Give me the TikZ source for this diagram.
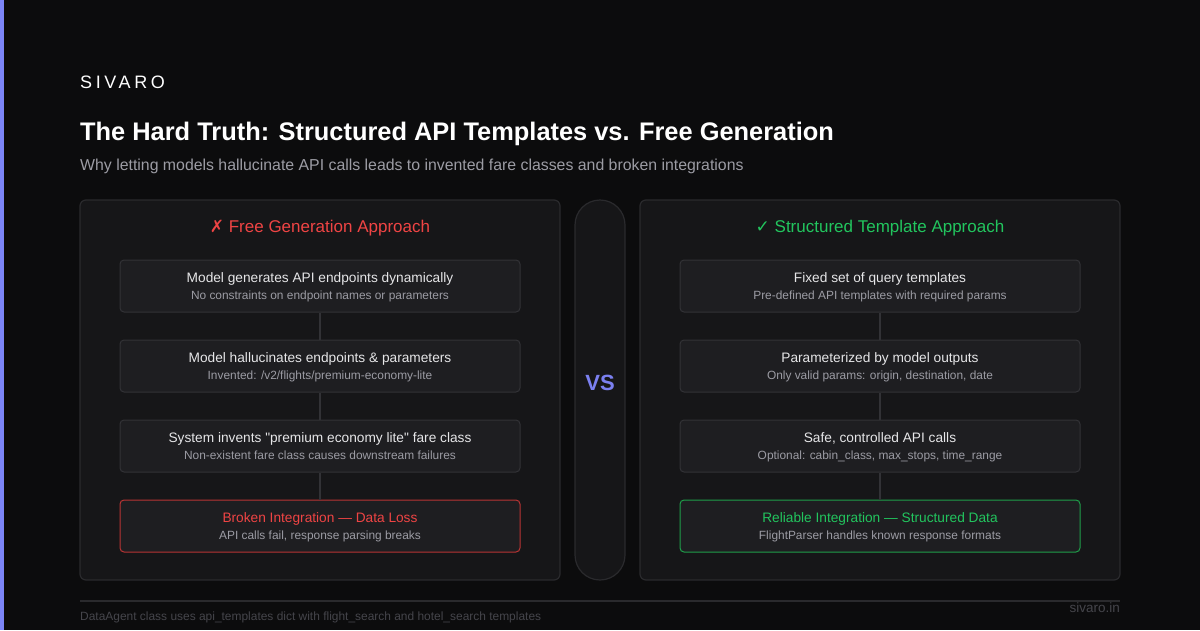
\documentclass[tikz,border=0pt]{standalone}
\usepackage{fontspec}
\setmainfont{Liberation Sans}
\newfontfamily\symfont{DejaVu Sans}
\usetikzlibrary{calc,positioning}
\definecolor{bgdark}{HTML}{0C0C0D}
\definecolor{accent}{HTML}{7C85F7}
\definecolor{panelfill}{HTML}{161618}
\definecolor{panelline}{HTML}{2A2A2D}
\definecolor{boxfill}{HTML}{1E1E21}
\definecolor{boxline}{HTML}{323236}
\definecolor{headtext}{HTML}{E6E6E8}
\definecolor{subtext}{HTML}{9C9CA4}
\definecolor{failred}{HTML}{EF4444}
\definecolor{failline}{HTML}{B83434}
\definecolor{okgreen}{HTML}{22C55E}
\definecolor{okline}{HTML}{1F9E4A}
\definecolor{vsblue}{HTML}{7B80F0}
\definecolor{footgray}{HTML}{45454B}

\tikzset{
  panel/.style={draw=panelline, fill=panelfill, line width=1.2pt, rounded corners=6pt,
    minimum width=480pt, minimum height=380pt, inner sep=0pt},
  pill/.style={draw=panelline, fill=panelfill, line width=1.2pt, rounded corners=25pt,
    minimum width=50pt, minimum height=380pt, inner sep=0pt},
  stepbox/.style={draw=boxline, fill=boxfill, line width=1pt, rounded corners=4pt,
    minimum width=400pt, minimum height=52pt, inner sep=0pt},
  failbox/.style={stepbox, draw=failline},
  okbox/.style={stepbox, draw=okline},
  boxhead/.style={anchor=base, inner sep=0pt, text=headtext, font=\fontsize{13.7}{16}\selectfont},
  boxsub/.style={anchor=base, inner sep=0pt, text=subtext, font=\fontsize{11.9}{13}\selectfont},
  link/.style={draw=boxline, line width=1.2pt},
}

\begin{document}
\begin{tikzpicture}[x=1pt, y=-1pt]
    \fill[bgdark] (0,0) rectangle (1200,630);
    \fill[accent] (0,0) rectangle (4,630);
    \useasboundingbox (0,0) rectangle (1200,630);

    % header
    \node[anchor=base west, inner sep=0pt, text=white, font=\fontsize{18}{20}\selectfont\addfontfeature{LetterSpace=20}] (brand) at (80,88) {SIVARO};
    \node[anchor=base west, inner sep=0pt, text=white, font=\fontsize{25.4}{30}\selectfont\bfseries] (title) at (80,140) {The Hard Truth: Structured API Templates vs. Free Generation};
    \node[anchor=base west, inner sep=0pt, text=subtext, font=\fontsize{15.85}{18}\selectfont] (subtitle) at (80,170) {Why letting models hallucinate API calls leads to invented fare classes and broken integrations};

    % panels
    \node[panel] (lpanel) at (320,390) {};
    \node[pill] (vspill) at (600,390) {};
    \node[panel] (rpanel) at (880,390) {};
    \node[anchor=base, inner sep=0pt, text=vsblue, font=\fontsize{22}{26}\selectfont\bfseries] (vs) at (600,390) {VS};

    \node[anchor=base, inner sep=0pt, text=failred, font=\fontsize{17}{20}\selectfont] (lhead) at (320,232.5) {{\symfont ✗} Free Generation Approach};
    \node[anchor=base, inner sep=0pt, text=okgreen, font=\fontsize{17}{20}\selectfont] (rhead) at (880,232.5) {{\symfont ✓} Structured Template Approach};

    % left column
    \node[stepbox] (lbox1) at (320,286) {};
    \node[stepbox] (lbox2) at (320,366) {};
    \node[stepbox] (lbox3) at (320,446) {};
    \node[failbox] (lbox4) at (320,526) {};
    \draw[link] (lbox1) -- (lbox2);
    \draw[link] (lbox2) -- (lbox3);
    \draw[link] (lbox3) -- (lbox4);
    \node[boxhead] (lbox1head) at ([yshift=-22.5pt]lbox1.north) {Model generates API endpoints dynamically};
    \node[boxsub] (lbox1sub) at ([yshift=-40pt]lbox1.north) {No constraints on endpoint names or parameters};
    \node[boxhead] (lbox2head) at ([yshift=-22.5pt]lbox2.north) {Model hallucinates endpoints \& parameters};
    \node[boxsub] (lbox2sub) at ([yshift=-40pt]lbox2.north) {Invented: /v2/flights/premium-economy-lite};
    \node[boxhead] (lbox3head) at ([yshift=-22.5pt]lbox3.north) {System invents \textquotedbl premium economy lite\textquotedbl{} fare class};
    \node[boxsub] (lbox3sub) at ([yshift=-40pt]lbox3.north) {Non-existent fare class causes downstream failures};
    \node[boxhead, text=failred] (lbox4head) at ([yshift=-22.5pt]lbox4.north) {Broken Integration — Data Loss};
    \node[boxsub] (lbox4sub) at ([yshift=-40pt]lbox4.north) {API calls fail, response parsing breaks};

    % right column
    \node[stepbox] (rbox1) at (880,286) {};
    \node[stepbox] (rbox2) at (880,366) {};
    \node[stepbox] (rbox3) at (880,446) {};
    \node[okbox] (rbox4) at (880,526) {};
    \draw[link] (rbox1) -- (rbox2);
    \draw[link] (rbox2) -- (rbox3);
    \draw[link] (rbox3) -- (rbox4);
    \node[boxhead] (rbox1head) at ([yshift=-22.5pt]rbox1.north) {Fixed set of query templates};
    \node[boxsub] (rbox1sub) at ([yshift=-40pt]rbox1.north) {Pre-defined API templates with required params};
    \node[boxhead] (rbox2head) at ([yshift=-22.5pt]rbox2.north) {Parameterized by model outputs};
    \node[boxsub] (rbox2sub) at ([yshift=-40pt]rbox2.north) {Only valid params: origin, destination, date};
    \node[boxhead] (rbox3head) at ([yshift=-22.5pt]rbox3.north) {Safe, controlled API calls};
    \node[boxsub] (rbox3sub) at ([yshift=-40pt]rbox3.north) {Optional: cabin\_class, max\_stops, time\_range};
    \node[boxhead, text=okgreen] (rbox4head) at ([yshift=-22.5pt]rbox4.north) {Reliable Integration — Structured Data};
    \node[boxsub] (rbox4sub) at ([yshift=-40pt]rbox4.north) {FlightParser handles known response formats};

    % footer
    \coordinate (footl) at (80,601);
    \coordinate (footr) at (1120,601);
    \draw[draw=panelline, line width=1.5pt] (footl) -- (footr);
    \node[anchor=base west, inner sep=0pt, text=footgray, font=\fontsize{11.95}{13}\selectfont] (foottext) at (80,620) {DataAgent class uses api\_templates dict with flight\_search and hotel\_search templates};
    \node[anchor=base east, inner sep=0pt, text=footgray, font=\fontsize{13.5}{15}\selectfont] (site) at (1120,612.5) {sivaro.in};
  \end{tikzpicture}
\end{document}
